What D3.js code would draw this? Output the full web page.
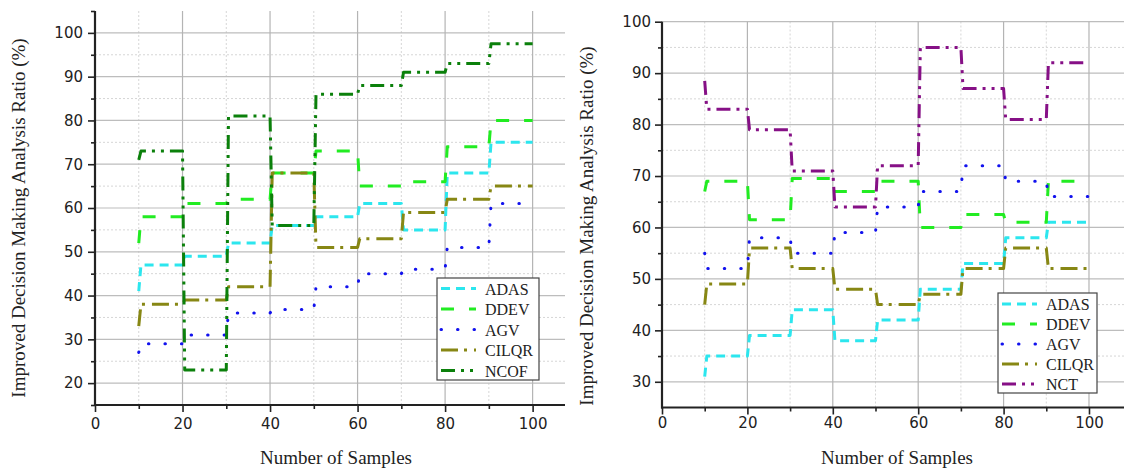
<!DOCTYPE html>
<html>
<head>
<meta charset="utf-8">
<script src="https://cdn.jsdelivr.net/npm/d3@7"></script>
<style>
  html, body { margin: 0; padding: 0; background: #fff; }
  svg { display: block; }
  .tick text { font-family: "DejaVu Sans", sans-serif; font-size: 15px; fill: #222; }
  .title { font-family: "Liberation Serif", "Times New Roman", serif; font-size: 19px; fill: #222; }
  .legend-text { font-family: "Liberation Serif", "Times New Roman", serif; font-size: 16px; fill: #222; }
</style>
</head>
<body>
<svg id="chart" width="1124" height="468"></svg>
<script>
// Sample counts where each measurement interval begins (each plateau lasts 10 samples)
const intervalStarts = [10, 20, 30, 40, 50, 60, 70, 80, 90];

// Each series: first value = reading at 10 samples, then the plateau level of each interval
// Left figure
const leftADAS  = [41, 47, 49, 52, 56, 58, 61, 55, 68, 75];
const leftDDEV  = [52, 58, 61, 62, 68, 73, 65, 66, 74, 80];
const leftAGV   = [27, 29, 31, 36, 36.8, 42, 45, 46, 51, 61];
const leftCILQR = [33, 38, 39, 42, 68, 51, 53, 59, 62, 65];
const leftNCOF  = [71, 73, 23, 81, 56, 86, 88, 91, 93, 97.5];

// Right figure
const rightADAS  = [31, 35, 39, 44, 38, 42, 48, 53, 58, 61];
const rightDDEV  = [67, 69, 61.5, 69.5, 67, 69, 60, 62.5, 61, 69];
const rightAGV   = [55, 52, 58, 55, 59, 64, 67, 72, 69, 66];
const rightCILQR = [45, 49, 56, 52, 48, 45, 47, 52, 56, 52];
const rightNCT   = [88.5, 83, 79, 71, 64, 72, 95, 87, 81, 92];

// Axis ticks
const xMajorTicks = [0, 20, 40, 60, 80, 100];
const xMinorTicks = [10, 30, 50, 70, 90];
const leftYMajor  = [20, 30, 40, 50, 60, 70, 80, 90, 100];
const leftYMinor  = [15, 25, 35, 45, 55, 65, 75, 85, 95, 105];
const rightYMajor = [30, 40, 50, 60, 70, 80, 90, 100];
const rightYMinor = [35, 45, 55, 65, 75, 85, 95];

const xTitle = "Number of Samples";
const yTitle = "Improved Decision Making Analysis Ratio (%)";

// Line styles per method
const styles = {
  ADAS:  { color: "#2ce6ee", dash: "9,6",            cap: "butt"  },
  DDEV:  { color: "#22ec22", dash: "13,15",          cap: "butt"  },
  AGV:   { color: "#1212ee", dash: "0.5,16",         cap: "round" },
  CILQR: { color: "#878714", dash: "17,6,3,7",       cap: "butt"  },
  NCOF:  { color: "#0b800b", dash: "14,6,3,6,3,6",   cap: "butt"  },
  NCT:   { color: "#861086", dash: "14,6,3,6,3,6",   cap: "butt"  }
};

// Turn [start, level1..level9] into a stepped polyline with short, near-vertical risers
const riser = 0.5;
function stepPoints(vals) {
  const pts = [[intervalStarts[0], vals[0]]];
  vals.slice(1).forEach((v, i) => {
    const x0 = intervalStarts[i];
    pts.push([x0 + riser, v], [x0 + 10, v]);
  });
  return pts;
}

const svg = d3.select("#chart");

function drawPanel(cfg) {
  const g = svg.append("g");
  const x = d3.scaleLinear().domain(cfg.xDomain).range(cfg.xRange);
  const y = d3.scaleLinear().domain(cfg.yDomain).range(cfg.yRange);
  const [xl, xr] = cfg.xRange;
  const [yb, yt] = cfg.yRange;

  // grid: dotted minor, solid major
  const grid = g.append("g");
  grid.selectAll(".hminor").data(cfg.yMinor.filter(v => v > cfg.yDomain[0] && v < cfg.yDomain[1]))
    .join("line").attr("x1", xl).attr("x2", xr).attr("y1", d => y(d)).attr("y2", d => y(d))
    .attr("stroke", "#d6d6d6").attr("stroke-width", 1).attr("stroke-dasharray", "2,2");
  grid.selectAll(".vminor").data(xMinorTicks)
    .join("line").attr("x1", d => x(d)).attr("x2", d => x(d)).attr("y1", yb).attr("y2", yt)
    .attr("stroke", "#d6d6d6").attr("stroke-width", 1).attr("stroke-dasharray", "2,2");
  grid.selectAll(".hmajor").data(cfg.yMajor)
    .join("line").attr("x1", xl).attr("x2", xr).attr("y1", d => y(d)).attr("y2", d => y(d))
    .attr("stroke", "#bdbdbd").attr("stroke-width", 1.2);
  grid.selectAll(".vmajor").data(xMajorTicks.filter(v => v > 0))
    .join("line").attr("x1", d => x(d)).attr("x2", d => x(d)).attr("y1", yb).attr("y2", yt)
    .attr("stroke", "#b4b4b4").attr("stroke-width", 1.2);

  // data lines
  const line = d3.line().x(d => x(d[0])).y(d => y(d[1]));
  cfg.series.forEach(s => {
    const st = styles[s.name];
    g.append("path")
      .datum(stepPoints(s.values))
      .attr("d", line)
      .attr("fill", "none")
      .attr("stroke", st.color)
      .attr("stroke-width", 3)
      .attr("stroke-dasharray", st.dash)
      .attr("stroke-linecap", st.cap)
      .attr("stroke-linejoin", "round");
  });

  // axes
  const axisG = g.append("g");
  const yMaj = axisG.append("g").attr("transform", `translate(${xl},0)`)
    .call(d3.axisLeft(y).tickValues(cfg.yMajor).tickSize(7).tickPadding(cfg.yPad).tickFormat(d3.format("d")));
  const yMin = axisG.append("g").attr("transform", `translate(${xl},0)`)
    .call(d3.axisLeft(y).tickValues(cfg.yMinor).tickSize(4).tickFormat(""));
  const xMaj = axisG.append("g").attr("transform", `translate(0,${yb})`)
    .call(d3.axisBottom(x).tickValues(xMajorTicks).tickSize(7).tickPadding(cfg.xPad).tickFormat(d3.format("d")));
  const xMin = axisG.append("g").attr("transform", `translate(0,${yb})`)
    .call(d3.axisBottom(x).tickValues(xMinorTicks).tickSize(4).tickFormat(""));
  [yMaj, yMin, xMaj, xMin].forEach(a => {
    a.select(".domain").remove();
    a.selectAll(".tick line").attr("stroke", "#222").attr("stroke-width", 1.6);
  });
  axisG.append("line").attr("x1", xl).attr("x2", xl).attr("y1", yb + 1).attr("y2", yt)
    .attr("stroke", "#222").attr("stroke-width", 2.2);
  axisG.append("line").attr("x1", xl - 1).attr("x2", xr).attr("y1", yb).attr("y2", yb)
    .attr("stroke", "#222").attr("stroke-width", 2.2);

  // titles
  g.append("text").attr("class", "title").attr("text-anchor", "middle")
    .attr("x", cfg.xTitlePos[0]).attr("y", cfg.xTitlePos[1]).text(xTitle);
  g.append("text").attr("class", "title").attr("text-anchor", "middle")
    .attr("transform", `translate(${cfg.yTitlePos[0]},${cfg.yTitlePos[1]}) rotate(-90)`).text(yTitle);

  // legend
  const lg = g.append("g");
  const L = cfg.legend;
  lg.append("rect").attr("x", L.x).attr("y", L.y).attr("width", L.w).attr("height", L.h)
    .attr("fill", "#fff").attr("stroke", "#444").attr("stroke-width", 1.2);
  cfg.series.forEach((s, i) => {
    const st = styles[s.name];
    const ry = L.y + L.first + i * L.step;
    lg.append("line").attr("x1", L.x + 4).attr("x2", L.x + 39).attr("y1", ry).attr("y2", ry)
      .attr("stroke", st.color).attr("stroke-width", 3)
      .attr("stroke-dasharray", st.dash).attr("stroke-linecap", st.cap);
    lg.append("text").attr("class", "legend-text").attr("x", L.x + 48).attr("y", ry + 6).text(s.name);
  });
}

drawPanel({
  xDomain: [0, 107.4], xRange: [95, 565],
  yDomain: [15, 105], yRange: [405, 11],
  yMajor: leftYMajor, yMinor: leftYMinor, yPad: 5, xPad: 6,
  xTitlePos: [336, 464], yTitlePos: [25, 218],
  legend: { x: 437, y: 278, w: 102, h: 102, first: 10.5, step: 20.5 },
  series: [
    { name: "ADAS", values: leftADAS },
    { name: "DDEV", values: leftDDEV },
    { name: "AGV", values: leftAGV },
    { name: "CILQR", values: leftCILQR },
    { name: "NCOF", values: leftNCOF }
  ]
});

drawPanel({
  xDomain: [0, 108.2], xRange: [662, 1124],
  yDomain: [25, 100], yRange: [407.5, 21.7],
  yMajor: rightYMajor, yMinor: rightYMinor, yPad: 4, xPad: 3,
  xTitlePos: [897, 464], yTitlePos: [593, 226],
  legend: { x: 998, y: 293, w: 99, h: 100, first: 11, step: 20 },
  series: [
    { name: "ADAS", values: rightADAS },
    { name: "DDEV", values: rightDDEV },
    { name: "AGV", values: rightAGV },
    { name: "CILQR", values: rightCILQR },
    { name: "NCT", values: rightNCT }
  ]
});
</script>
</body>
</html>
